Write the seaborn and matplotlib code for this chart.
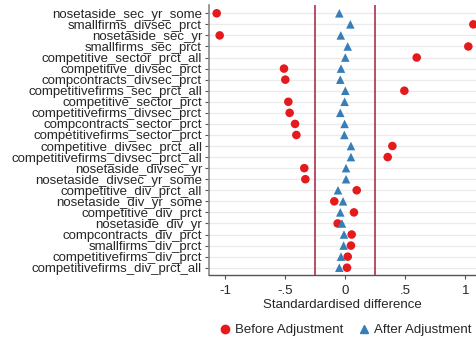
import matplotlib
matplotlib.use("Agg")
import matplotlib.pyplot as plt
import seaborn as sns
import pandas as pd
from matplotlib.lines import Line2D

variables = [
    "nosetaside_sec_yr_some", "smallfirms_divsec_prct", "nosetaside_sec_yr",
    "smallfirms_sec_prct", "competitive_sector_prct_all", "competitive_divsec_prct",
    "compcontracts_divsec_prct", "competitivefirms_sec_prct_all", "competitive_sector_prct",
    "competitivefirms_divsec_prct", "compcontracts_sector_prct", "competitivefirms_sector_prct",
    "competitive_divsec_prct_all", "competitivefirms_divsec_prct_all", "nosetaside_divsec_yr",
    "nosetaside_divsec_yr_some", "competitive_div_prct_all", "nosetaside_div_yr_some",
    "competitive_div_prct", "nosetaside_div_yr", "compcontracts_div_prct",
    "smallfirms_div_prct", "competitivefirms_div_prct", "competitivefirms_div_prct_all",
]
before = [-1.072, 1.067, -1.047, 1.025, 0.595, -0.511, -0.50, 0.492, -0.475, -0.464,
          -0.419, -0.408, 0.392, 0.353, -0.342, -0.333, 0.095, -0.092, 0.072, -0.064,
          0.053, 0.047, 0.020, 0.014]
after = [-0.050, 0.042, -0.038, 0.020, 0.0, -0.036, -0.042, 0.0, -0.006, -0.042,
         -0.006, -0.008, 0.047, 0.047, 0.006, 0.006, -0.061, -0.019, -0.042, -0.028,
         -0.011, -0.014, -0.036, -0.050]

df = pd.DataFrame({"variable": variables,
                   "Before Adjustment": before,
                   "After Adjustment": after})
long = df.melt(id_vars="variable", var_name="type", value_name="diff")

sns.set_style("white")
plt.rcParams["font.family"] = ["Liberation Sans", "DejaVu Sans"]

fig = plt.figure(figsize=(4.76, 3.4), dpi=100)
ax = fig.add_axes([209 / 476, 65 / 340, 267 / 476, 270 / 340])

# light row guides
for i in range(len(variables)):
    ax.axhline(i, color="#ebebeb", lw=1, zorder=0)

ax.axvline(-0.25, color="#a3203d", lw=1.1, zorder=1)
ax.axvline(0.25, color="#a3203d", lw=1.1, zorder=1)

sns.scatterplot(data=long, x="diff", y="variable", hue="type", style="type",
                palette={"Before Adjustment": "#e41a1c", "After Adjustment": "#377eb8"},
                markers={"Before Adjustment": "o", "After Adjustment": "^"},
                s=38, linewidth=0, ax=ax, zorder=3, legend=False)

ax.set_ylim(23.66, -0.75)
ax.set_xlim(-1.136, 1.089)
ax.set_xticks([-1, -0.5, 0, 0.5, 1])
ax.set_xticklabels(["-1", "-.5", "0", ".5", "1"])
ax.set_xlabel("Standardardised difference", fontsize=9.5, labelpad=2)
ax.set_ylabel("")
ax.tick_params(axis="both", labelsize=9.5, length=3, width=0.8, color="#555555",
               direction="out", pad=2)
ax.tick_params(axis="x", pad=4)
ax.tick_params(axis="y", left=True)
ax.tick_params(axis="x", bottom=True)
for s in ["top", "right"]:
    ax.spines[s].set_visible(False)
ax.spines["left"].set_color("#888888")
ax.spines["bottom"].set_color("#555555")
ax.spines["left"].set_linewidth(1.2)
ax.spines["bottom"].set_linewidth(1.0)

handles = [
    Line2D([], [], marker="o", color="#e41a1c", ls="", markersize=6),
    Line2D([], [], marker="^", color="#377eb8", ls="", markersize=6),
]
fig.legend(handles, ["Before Adjustment", "After Adjustment"], loc="center",
           bbox_to_anchor=(345 / 476, 10 / 340), ncol=2, frameon=False,
           fontsize=9.5, handletextpad=0.3, columnspacing=1.0, handlelength=1)

fig.savefig("out.png", dpi=100)
